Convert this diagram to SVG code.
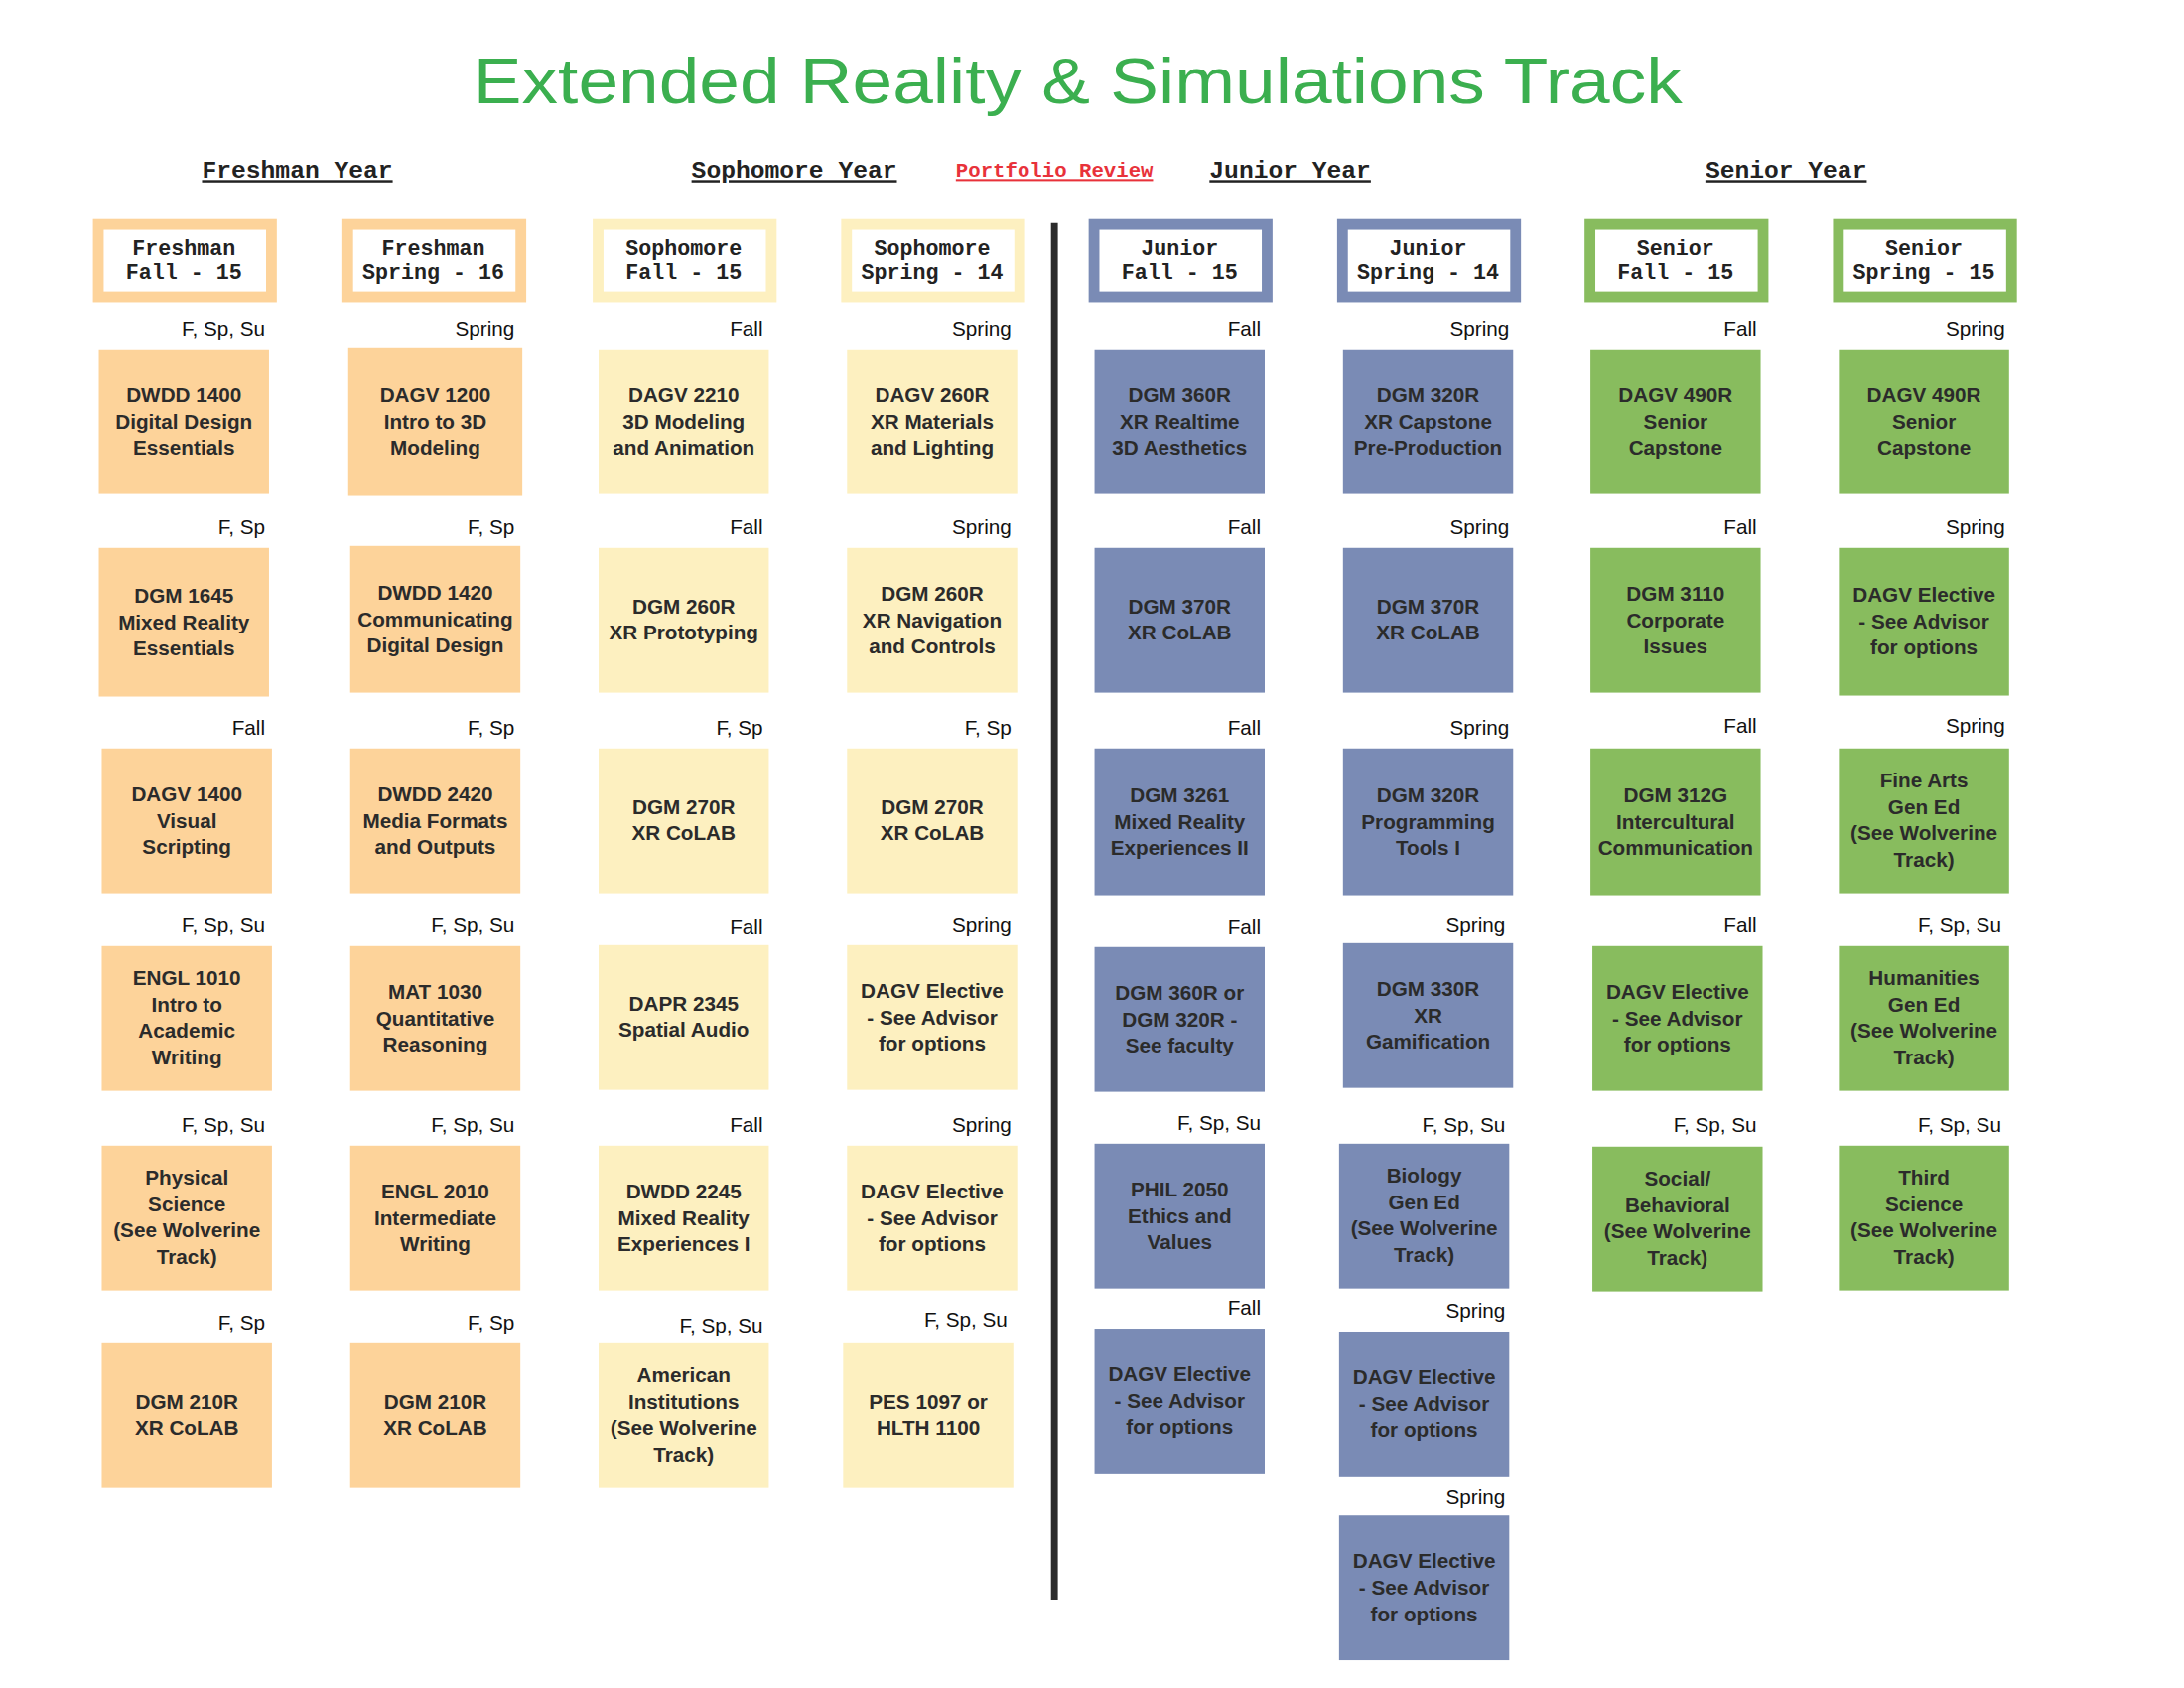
<svg xmlns="http://www.w3.org/2000/svg" width="2200" height="1700" viewBox="0 0 2200 1700">
<style>
.c{font-family:"Liberation Sans",Arial,sans-serif;font-weight:bold;font-size:21px;fill:#2b2b2b;text-anchor:middle}
.t{font-family:"Liberation Sans",Arial,sans-serif;font-size:21px;fill:#111;text-anchor:end}
.h{font-family:"Liberation Mono",monospace;font-weight:bold;font-size:22px;fill:#222;text-anchor:middle}
.y{font-family:"Liberation Mono",monospace;font-weight:bold;font-size:25px;fill:#222;text-anchor:middle;text-decoration:underline}
.fr{fill:#fdd39a}.so{fill:#fdf0c0}.ju{fill:#7a8bb5}.se{fill:#88bc5e}
.hb{fill:#fff;stroke-width:11}
</style>
<rect width="2200" height="1700" fill="#fff"/>
<g transform="scale(0.9853)">
<text x="1102" y="106" font-family="Liberation Sans, Arial, sans-serif" font-size="66" fill="#3baf4f" text-anchor="middle" textLength="1236" lengthAdjust="spacingAndGlyphs">Extended Reality &amp; Simulations Track</text>
<g id="years">
<text class="y" x="304" y="182">Freshman Year</text>
<text class="y" x="812" y="182">Sophomore Year</text>
<text class="y" x="1078" y="181" style="fill:#e8323a;font-size:21px">Portfolio Review</text>
<text class="y" x="1319" y="182">Junior Year</text>
<text class="y" x="1826" y="182">Senior Year</text>
</g>
<g id="connectors"><line x1="1078" y1="228" x2="1078" y2="1635" stroke="#2b2b2b" stroke-width="7"/></g>
<g id="headers">
<g id="h1"><rect class="hb" x="100.5" y="229.5" width="177" height="74" stroke="#fdd39a"/><text class="h" x="188" y="261">Freshman<tspan x="188" dy="24">Fall - 15</tspan></text></g>
<g id="h2"><rect class="hb" x="355.5" y="229.5" width="177" height="74" stroke="#fdd39a"/><text class="h" x="443" y="261">Freshman<tspan x="443" dy="24">Spring - 16</tspan></text></g>
<g id="h3"><rect class="hb" x="611.5" y="229.5" width="177" height="74" stroke="#fdf0c0"/><text class="h" x="699" y="261">Sophomore<tspan x="699" dy="24">Fall - 15</tspan></text></g>
<g id="h4"><rect class="hb" x="865.5" y="229.5" width="177" height="74" stroke="#fdf0c0"/><text class="h" x="953" y="261">Sophomore<tspan x="953" dy="24">Spring - 14</tspan></text></g>
<g id="h5"><rect class="hb" x="1118.5" y="229.5" width="177" height="74" stroke="#7a8bb5"/><text class="h" x="1206" y="261">Junior<tspan x="1206" dy="24">Fall - 15</tspan></text></g>
<g id="h6"><rect class="hb" x="1372.5" y="229.5" width="177" height="74" stroke="#7a8bb5"/><text class="h" x="1460" y="261">Junior<tspan x="1460" dy="24">Spring - 14</tspan></text></g>
<g id="h7"><rect class="hb" x="1625.5" y="229.5" width="177" height="74" stroke="#88bc5e"/><text class="h" x="1713" y="261">Senior<tspan x="1713" dy="24">Fall - 15</tspan></text></g>
<g id="h8"><rect class="hb" x="1879.5" y="229.5" width="177" height="74" stroke="#88bc5e"/><text class="h" x="1967" y="261">Senior<tspan x="1967" dy="24">Spring - 15</tspan></text></g>
</g>
<g id="col1">
<g id="c1r1"><text class="t" x="271" y="343">F, Sp, Su</text><rect class="fr" x="101" y="357" width="174" height="148"/><text class="c" x="188" y="411">DWDD 1400<tspan x="188" dy="27">Digital Design</tspan><tspan x="188" dy="27">Essentials</tspan></text></g>
<g id="c1r2"><text class="t" x="271" y="546">F, Sp</text><rect class="fr" x="101" y="560" width="174" height="152"/><text class="c" x="188" y="616">DGM 1645<tspan x="188" dy="27">Mixed Reality</tspan><tspan x="188" dy="27">Essentials</tspan></text></g>
<g id="c1r3"><text class="t" x="271" y="751">Fall</text><rect class="fr" x="104" y="765" width="174" height="148"/><text class="c" x="191" y="819">DAGV 1400<tspan x="191" dy="27">Visual</tspan><tspan x="191" dy="27">Scripting</tspan></text></g>
<g id="c1r4"><text class="t" x="271" y="953">F, Sp, Su</text><rect class="fr" x="104" y="967" width="174" height="148"/><text class="c" x="191" y="1007">ENGL 1010<tspan x="191" dy="27">Intro to</tspan><tspan x="191" dy="27">Academic</tspan><tspan x="191" dy="27">Writing</tspan></text></g>
<g id="c1r5"><text class="t" x="271" y="1157">F, Sp, Su</text><rect class="fr" x="104" y="1171" width="174" height="148"/><text class="c" x="191" y="1211">Physical<tspan x="191" dy="27">Science</tspan><tspan x="191" dy="27">(See Wolverine</tspan><tspan x="191" dy="27">Track)</tspan></text></g>
<g id="c1r6"><text class="t" x="271" y="1359">F, Sp</text><rect class="fr" x="104" y="1373" width="174" height="148"/><text class="c" x="191" y="1440">DGM 210R<tspan x="191" dy="27">XR CoLAB</tspan></text></g>
</g>
<g id="col2">
<g id="c2r1"><text class="t" x="526" y="343">Spring</text><rect class="fr" x="356" y="355" width="178" height="152"/><text class="c" x="445" y="411">DAGV 1200<tspan x="445" dy="27">Intro to 3D</tspan><tspan x="445" dy="27">Modeling</tspan></text></g>
<g id="c2r2"><text class="t" x="526" y="546">F, Sp</text><rect class="fr" x="358" y="558" width="174" height="150"/><text class="c" x="445" y="613">DWDD 1420<tspan x="445" dy="27">Communicating</tspan><tspan x="445" dy="27">Digital Design</tspan></text></g>
<g id="c2r3"><text class="t" x="526" y="751">F, Sp</text><rect class="fr" x="358" y="765" width="174" height="148"/><text class="c" x="445" y="819">DWDD 2420<tspan x="445" dy="27">Media Formats</tspan><tspan x="445" dy="27">and Outputs</tspan></text></g>
<g id="c2r4"><text class="t" x="526" y="953">F, Sp, Su</text><rect class="fr" x="358" y="967" width="174" height="148"/><text class="c" x="445" y="1021">MAT 1030<tspan x="445" dy="27">Quantitative</tspan><tspan x="445" dy="27">Reasoning</tspan></text></g>
<g id="c2r5"><text class="t" x="526" y="1157">F, Sp, Su</text><rect class="fr" x="358" y="1171" width="174" height="148"/><text class="c" x="445" y="1225">ENGL 2010<tspan x="445" dy="27">Intermediate</tspan><tspan x="445" dy="27">Writing</tspan></text></g>
<g id="c2r6"><text class="t" x="526" y="1359">F, Sp</text><rect class="fr" x="358" y="1373" width="174" height="148"/><text class="c" x="445" y="1440">DGM 210R<tspan x="445" dy="27">XR CoLAB</tspan></text></g>
</g>
<g id="col3">
<g id="c3r1"><text class="t" x="780" y="343">Fall</text><rect class="so" x="612" y="357" width="174" height="148"/><text class="c" x="699" y="411">DAGV 2210<tspan x="699" dy="27">3D Modeling</tspan><tspan x="699" dy="27">and Animation</tspan></text></g>
<g id="c3r2"><text class="t" x="780" y="546">Fall</text><rect class="so" x="612" y="560" width="174" height="148"/><text class="c" x="699" y="627">DGM 260R<tspan x="699" dy="27">XR Prototyping</tspan></text></g>
<g id="c3r3"><text class="t" x="780" y="751">F, Sp</text><rect class="so" x="612" y="765" width="174" height="148"/><text class="c" x="699" y="832">DGM 270R<tspan x="699" dy="27">XR CoLAB</tspan></text></g>
<g id="c3r4"><text class="t" x="780" y="955">Fall</text><rect class="so" x="612" y="966" width="174" height="148"/><text class="c" x="699" y="1033">DAPR 2345<tspan x="699" dy="27">Spatial Audio</tspan></text></g>
<g id="c3r5"><text class="t" x="780" y="1157">Fall</text><rect class="so" x="612" y="1171" width="174" height="148"/><text class="c" x="699" y="1225">DWDD 2245<tspan x="699" dy="27">Mixed Reality</tspan><tspan x="699" dy="27">Experiences I</tspan></text></g>
<g id="c3r6"><text class="t" x="780" y="1362">F, Sp, Su</text><rect class="so" x="612" y="1373" width="174" height="148"/><text class="c" x="699" y="1413">American<tspan x="699" dy="27">Institutions</tspan><tspan x="699" dy="27">(See Wolverine</tspan><tspan x="699" dy="27">Track)</tspan></text></g>
</g>
<g id="col4">
<g id="c4r1"><text class="t" x="1034" y="343">Spring</text><rect class="so" x="866" y="357" width="174" height="148"/><text class="c" x="953" y="411">DAGV 260R<tspan x="953" dy="27">XR Materials</tspan><tspan x="953" dy="27">and Lighting</tspan></text></g>
<g id="c4r2"><text class="t" x="1034" y="546">Spring</text><rect class="so" x="866" y="560" width="174" height="148"/><text class="c" x="953" y="614">DGM 260R<tspan x="953" dy="27">XR Navigation</tspan><tspan x="953" dy="27">and Controls</tspan></text></g>
<g id="c4r3"><text class="t" x="1034" y="751">F, Sp</text><rect class="so" x="866" y="765" width="174" height="148"/><text class="c" x="953" y="832">DGM 270R<tspan x="953" dy="27">XR CoLAB</tspan></text></g>
<g id="c4r4"><text class="t" x="1034" y="953">Spring</text><rect class="so" x="866" y="966" width="174" height="148"/><text class="c" x="953" y="1020">DAGV Elective<tspan x="953" dy="27">- See Advisor</tspan><tspan x="953" dy="27">for options</tspan></text></g>
<g id="c4r5"><text class="t" x="1034" y="1157">Spring</text><rect class="so" x="866" y="1171" width="174" height="148"/><text class="c" x="953" y="1225">DAGV Elective<tspan x="953" dy="27">- See Advisor</tspan><tspan x="953" dy="27">for options</tspan></text></g>
<g id="c4r6"><text class="t" x="1030" y="1356">F, Sp, Su</text><rect class="so" x="862" y="1373" width="174" height="148"/><text class="c" x="949" y="1440">PES 1097 or<tspan x="949" dy="27">HLTH 1100</tspan></text></g>
</g>
<g id="col5">
<g id="c5r1"><text class="t" x="1289" y="343">Fall</text><rect class="ju" x="1119" y="357" width="174" height="148"/><text class="c" x="1206" y="411">DGM 360R<tspan x="1206" dy="27">XR Realtime</tspan><tspan x="1206" dy="27">3D Aesthetics</tspan></text></g>
<g id="c5r2"><text class="t" x="1289" y="546">Fall</text><rect class="ju" x="1119" y="560" width="174" height="148"/><text class="c" x="1206" y="627">DGM 370R<tspan x="1206" dy="27">XR CoLAB</tspan></text></g>
<g id="c5r3"><text class="t" x="1289" y="751">Fall</text><rect class="ju" x="1119" y="765" width="174" height="150"/><text class="c" x="1206" y="820">DGM 3261<tspan x="1206" dy="27">Mixed Reality</tspan><tspan x="1206" dy="27">Experiences II</tspan></text></g>
<g id="c5r4"><text class="t" x="1289" y="955">Fall</text><rect class="ju" x="1119" y="968" width="174" height="148"/><text class="c" x="1206" y="1022">DGM 360R or<tspan x="1206" dy="27">DGM 320R -</tspan><tspan x="1206" dy="27">See faculty</tspan></text></g>
<g id="c5r5"><text class="t" x="1289" y="1155">F, Sp, Su</text><rect class="ju" x="1119" y="1169" width="174" height="148"/><text class="c" x="1206" y="1223">PHIL 2050<tspan x="1206" dy="27">Ethics and</tspan><tspan x="1206" dy="27">Values</tspan></text></g>
<g id="c5r6"><text class="t" x="1289" y="1344">Fall</text><rect class="ju" x="1119" y="1358" width="174" height="148"/><text class="c" x="1206" y="1412">DAGV Elective<tspan x="1206" dy="27">- See Advisor</tspan><tspan x="1206" dy="27">for options</tspan></text></g>
</g>
<g id="col6">
<g id="c6r1"><text class="t" x="1543" y="343">Spring</text><rect class="ju" x="1373" y="357" width="174" height="148"/><text class="c" x="1460" y="411">DGM 320R<tspan x="1460" dy="27">XR Capstone</tspan><tspan x="1460" dy="27">Pre-Production</tspan></text></g>
<g id="c6r2"><text class="t" x="1543" y="546">Spring</text><rect class="ju" x="1373" y="560" width="174" height="148"/><text class="c" x="1460" y="627">DGM 370R<tspan x="1460" dy="27">XR CoLAB</tspan></text></g>
<g id="c6r3"><text class="t" x="1543" y="751">Spring</text><rect class="ju" x="1373" y="765" width="174" height="150"/><text class="c" x="1460" y="820">DGM 320R<tspan x="1460" dy="27">Programming</tspan><tspan x="1460" dy="27">Tools I</tspan></text></g>
<g id="c6r4"><text class="t" x="1539" y="953">Spring</text><rect class="ju" x="1373" y="964" width="174" height="148"/><text class="c" x="1460" y="1018">DGM 330R<tspan x="1460" dy="27">XR</tspan><tspan x="1460" dy="27">Gamification</tspan></text></g>
<g id="c6r5"><text class="t" x="1539" y="1157">F, Sp, Su</text><rect class="ju" x="1369" y="1169" width="174" height="148"/><text class="c" x="1456" y="1209">Biology<tspan x="1456" dy="27">Gen Ed</tspan><tspan x="1456" dy="27">(See Wolverine</tspan><tspan x="1456" dy="27">Track)</tspan></text></g>
<g id="c6r6"><text class="t" x="1539" y="1347">Spring</text><rect class="ju" x="1369" y="1361" width="174" height="148"/><text class="c" x="1456" y="1415">DAGV Elective<tspan x="1456" dy="27">- See Advisor</tspan><tspan x="1456" dy="27">for options</tspan></text></g>
<g id="c6r7"><text class="t" x="1539" y="1538">Spring</text><rect class="ju" x="1369" y="1549" width="174" height="148"/><text class="c" x="1456" y="1603">DAGV Elective<tspan x="1456" dy="27">- See Advisor</tspan><tspan x="1456" dy="27">for options</tspan></text></g>
</g>
<g id="col7">
<g id="c7r1"><text class="t" x="1796" y="343">Fall</text><rect class="se" x="1626" y="357" width="174" height="148"/><text class="c" x="1713" y="411">DAGV 490R<tspan x="1713" dy="27">Senior</tspan><tspan x="1713" dy="27">Capstone</tspan></text></g>
<g id="c7r2"><text class="t" x="1796" y="546">Fall</text><rect class="se" x="1626" y="560" width="174" height="148"/><text class="c" x="1713" y="614">DGM 3110<tspan x="1713" dy="27">Corporate</tspan><tspan x="1713" dy="27">Issues</tspan></text></g>
<g id="c7r3"><text class="t" x="1796" y="749">Fall</text><rect class="se" x="1626" y="765" width="174" height="150"/><text class="c" x="1713" y="820">DGM 312G<tspan x="1713" dy="27">Intercultural</tspan><tspan x="1713" dy="27">Communication</tspan></text></g>
<g id="c7r4"><text class="t" x="1796" y="953">Fall</text><rect class="se" x="1628" y="967" width="174" height="148"/><text class="c" x="1715" y="1021">DAGV Elective<tspan x="1715" dy="27">- See Advisor</tspan><tspan x="1715" dy="27">for options</tspan></text></g>
<g id="c7r5"><text class="t" x="1796" y="1157">F, Sp, Su</text><rect class="se" x="1628" y="1172" width="174" height="148"/><text class="c" x="1715" y="1212">Social/<tspan x="1715" dy="27">Behavioral</tspan><tspan x="1715" dy="27">(See Wolverine</tspan><tspan x="1715" dy="27">Track)</tspan></text></g>
</g>
<g id="col8">
<g id="c8r1"><text class="t" x="2050" y="343">Spring</text><rect class="se" x="1880" y="357" width="174" height="148"/><text class="c" x="1967" y="411">DAGV 490R<tspan x="1967" dy="27">Senior</tspan><tspan x="1967" dy="27">Capstone</tspan></text></g>
<g id="c8r2"><text class="t" x="2050" y="546">Spring</text><rect class="se" x="1880" y="560" width="174" height="151"/><text class="c" x="1967" y="615">DAGV Elective<tspan x="1967" dy="27">- See Advisor</tspan><tspan x="1967" dy="27">for options</tspan></text></g>
<g id="c8r3"><text class="t" x="2050" y="749">Spring</text><rect class="se" x="1880" y="765" width="174" height="148"/><text class="c" x="1967" y="805">Fine Arts<tspan x="1967" dy="27">Gen Ed</tspan><tspan x="1967" dy="27">(See Wolverine</tspan><tspan x="1967" dy="27">Track)</tspan></text></g>
<g id="c8r4"><text class="t" x="2046" y="953">F, Sp, Su</text><rect class="se" x="1880" y="967" width="174" height="148"/><text class="c" x="1967" y="1007">Humanities<tspan x="1967" dy="27">Gen Ed</tspan><tspan x="1967" dy="27">(See Wolverine</tspan><tspan x="1967" dy="27">Track)</tspan></text></g>
<g id="c8r5"><text class="t" x="2046" y="1157">F, Sp, Su</text><rect class="se" x="1880" y="1171" width="174" height="148"/><text class="c" x="1967" y="1211">Third<tspan x="1967" dy="27">Science</tspan><tspan x="1967" dy="27">(See Wolverine</tspan><tspan x="1967" dy="27">Track)</tspan></text></g>
</g>
</g>
</svg>
